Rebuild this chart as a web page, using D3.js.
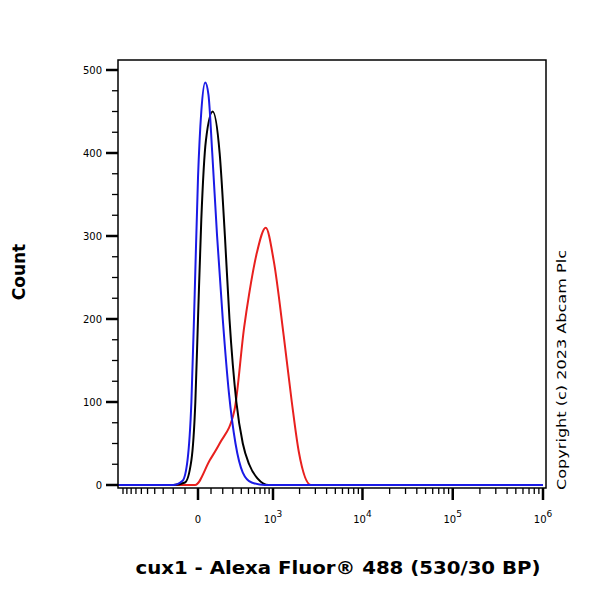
<!DOCTYPE html>
<html><head><meta charset="utf-8">
<script src="https://cdn.jsdelivr.net/npm/d3@7"></script>
<style>body{margin:0;background:#fff}text{font-family:"DejaVu Sans",Verdana,sans-serif}</style>
</head><body>
<svg id="chart" width="600" height="600"></svg>
<script>
var blue = [[-3000,0],[-200,0],[-120,5],[-80,30],[-50,100],[-25,230],[0,370],[25,450],[55,485],[80,470],[110,400],[150,300],[200,200],[260,110],[330,50],[420,15],[550,3],[800,0],[1e6,0]];
var black = [[-3000,0],[-200,0],[-100,3],[-50,30],[-20,100],[0,200],[25,320],[60,415],[114,450],[172,400],[220,300],[265,200],[340,100],[420,50],[510,25],[650,8],[890,0],[1e6,0]];
var red = [[-3000,0],[-22,0],[91,30],[172,50],[318,90],[438,190],[510,230],[640,280],[820,310],[1020,270],[1325,180],[1636,100],[1960,40],[2676,0],[1e6,0]];
var y_ticks = [0,100,200,300,400,500];
var x_major = [0,1e3,1e4,1e5,1e6];
var x_labels = ['0','3','4','5','6'];

var draw = function(){
    var w = 290;
    var t = function(v){ return Math.asinh(v/w)/Math.LN10; };
    var tx = d3.scaleLinear().domain([0, t(1e3), t(1e6)]).range([198, 273, 543]);
    var x = function(v){ return tx(t(v)); };
    var y = d3.scaleLinear().domain([0,500]).range([485,70]);

    var svg = d3.select('#chart');
    var L = 118, R = 546, T = 60, B = 488;

    var line = d3.line().x(function(d){return x(d[0])}).y(function(d){return y(d[1])}).curve(d3.curveMonotoneX);
    svg.append('clipPath').attr('id','c').append('rect').attr('x',L).attr('y',T).attr('width',R-L).attr('height',B-T);
    [[red,'#e8201e'],[black,'#000'],[blue,'#1a1ae6']].forEach(function(s){
        svg.append('path').attr('d', line(s[0])).attr('fill','none').attr('stroke',s[1]).attr('stroke-width',2).attr('clip-path','url(#c)');
    });

    svg.append('rect').attr('x',L).attr('y',T).attr('width',R-L).attr('height',B-T)
       .attr('fill','none').attr('stroke','#000').attr('stroke-width',1.5);

    // y axis
    svg.selectAll('.ym').data(d3.range(0,501,25)).enter().append('line')
       .attr('x1',L).attr('x2',function(d){return d%100==0 ? L-12 : L-6})
       .attr('y1',function(d){return y(d)}).attr('y2',function(d){return y(d)})
       .attr('stroke','#000').attr('stroke-width',function(d){return d%100==0?2.5:1.3});
    svg.selectAll('.yl').data(y_ticks).enter().append('text')
       .attr('x',L-16).attr('y',function(d){return y(d)+4}).attr('text-anchor','end')
       .style('font-size','10px').text(function(d){return d});

    // x axis
    var xminor = [];
    [-1,1].forEach(function(sg){ for(var k=1;k<10;k++) xminor.push(sg*k*100); });
    [-1e3,-2e3].forEach(function(v){ xminor.push(v); });
    [1e3,1e4,1e5].forEach(function(dec){ for(var k=2;k<10;k++) xminor.push(k*dec); });
    xminor = xminor.filter(function(v){ return x(v)>=L && x(v)<=R; });
    svg.selectAll('.xm').data(xminor).enter().append('line')
       .attr('x1',function(d){return x(d)}).attr('x2',function(d){return x(d)})
       .attr('y1',B).attr('y2',B+6).attr('stroke','#000').attr('stroke-width',1.3);
    svg.selectAll('.xM').data(x_major).enter().append('line')
       .attr('x1',function(d){return x(d)}).attr('x2',function(d){return x(d)})
       .attr('y1',B).attr('y2',B+12).attr('stroke','#000').attr('stroke-width',2.5);
    svg.selectAll('.xl').data(x_major).enter().append('text')
       .attr('x',function(d){return x(d)}).attr('y',523).attr('text-anchor','middle').style('font-size','10px')
       .each(function(d,i){
           var s = d3.select(this);
           if(i==0){ s.text('0'); return; }
           s.append('tspan').text('10');
           s.append('tspan').attr('dy',-6).style('font-size','9px').text(x_labels[i]);
       });

    svg.append('text').attr('transform','translate(25,272) rotate(-90)').attr('text-anchor','middle')
       .style('font-size','17px').style('font-weight','bold').text('Count');
    svg.append('text').attr('x',338).attr('y',574).attr('text-anchor','middle')
       .attr('textLength',405).attr('lengthAdjust','spacingAndGlyphs')
       .style('font-size','17px').style('font-weight','bold').text('cux1 - Alexa Fluor® 488 (530/30 BP)');
    svg.append('text').attr('transform','translate(566,370) rotate(-90)').attr('text-anchor','middle')
       .attr('textLength',240).attr('lengthAdjust','spacingAndGlyphs')
       .style('font-size','13px').text('Copyright (c) 2023 Abcam Plc');
};
draw();
</script>
</body></html>
